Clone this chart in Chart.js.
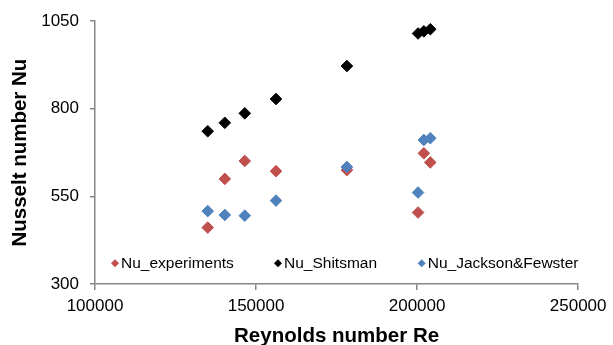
<!DOCTYPE html>
<html>
<head>
<meta charset="utf-8">
<script src="https://cdn.jsdelivr.net/npm/chart.js@4/dist/chart.umd.min.js"></script>
<style>
html,body{margin:0;padding:0;background:#fff;}
#wrap{width:613px;height:345px;position:relative;}
</style>
</head>
<body>
<div id="wrap"><canvas id="c"></canvas></div>
<script>
const reynolds = [135000, 140300, 146500, 156200, 178200, 200300, 202100, 204100];
const nuExperiments = [461, 600, 651, 622, 625, 504, 673, 647];
const nuShitsman = [736, 760, 787, 828, 922, 1015, 1021, 1027];
const nuJackson = [508, 497, 495, 538, 634, 561, 711, 716];
const seriesNames = ['Nu_experiments', 'Nu_Shitsman', 'Nu_Jackson&Fewster'];
const seriesColors = ['#C0504D', '#000000', '#4F81BD'];
const xTicks = [100000, 150000, 200000, 250000];
const yTicks = [300, 550, 800, 1050];

const FONT = "'Liberation Sans', Arial, Helvetica, sans-serif";

function pts(ys){ return reynolds.map((x,i)=>({x:x, y:ys[i]})); }

const allSeries = [nuExperiments, nuShitsman, nuJackson];
const datasets = allSeries.map((ys, i) => ({
  label: seriesNames[i],
  data: pts(ys),
  backgroundColor: seriesColors[i],
  borderColor: seriesColors[i],
  pointStyle: 'rectRot',
  pointRadius: 5.8,
  pointBorderWidth: 1,
  showLine: false,
  order: 3 - i
}));

const legendPlugin = {
  id: 'insideLegend',
  afterDraw(chart) {
    const ctx = chart.ctx;
    const a = chart.chartArea;
    const y = a.bottom - 20.7;
    const offsets = [20, 183, 326.7];
    ctx.save();
    ctx.font = "15.5px " + FONT;
    ctx.textBaseline = 'middle';
    ctx.textAlign = 'left';
    seriesNames.forEach((name, i) => {
      const cx = a.left + offsets[i];
      ctx.fillStyle = seriesColors[i];
      ctx.beginPath();
      ctx.moveTo(cx, y - 4);
      ctx.lineTo(cx + 4, y);
      ctx.lineTo(cx, y + 4);
      ctx.lineTo(cx - 4, y);
      ctx.closePath();
      ctx.fill();
      ctx.fillStyle = '#000';
      ctx.fillText(name, cx + 6, y + 0.5);
    });
    ctx.restore();
  }
};

new Chart(document.getElementById('c'), {
  type: 'scatter',
  data: { datasets },
  plugins: [legendPlugin],
  options: {
    responsive: true,
    maintainAspectRatio: false,
    animation: false,
    events: [],
    layout: { padding: { top: 21, right: 31, left: 0, bottom: 0 } },
    plugins: { legend: { display: false }, tooltip: { enabled: false } },
    scales: {
      x: {
        type: 'linear',
        min: xTicks[0], max: xTicks[xTicks.length - 1],
        afterBuildTicks(scale){ scale.ticks = xTicks.map(v => ({value: v})); },
        ticks: { font: { size: 17, family: FONT }, color: '#000', padding: 6.5, maxRotation: 0,
                 callback: v => String(v) },
        grid: { display: true, drawOnChartArea: false, drawTicks: true, tickLength: 6, color: '#868686', lineWidth: 1.5 },
        border: { display: true, color: '#868686', width: 1.5 },
        title: { display: true, text: 'Reynolds number Re', color: '#000',
                 font: { size: 20.5, weight: 'bold', family: FONT, lineHeight: 0.8 },
                 padding: { top: 0, bottom: 0 } },
        afterFit(scale){ scale.height = 61; }
      },
      y: {
        type: 'linear',
        min: yTicks[0], max: yTicks[yTicks.length - 1],
        afterBuildTicks(scale){ scale.ticks = yTicks.map(v => ({value: v})); },
        ticks: { font: { size: 17, family: FONT }, color: '#000', padding: 11,
                 callback: v => String(v) },
        grid: { display: true, drawOnChartArea: false, drawTicks: true, tickLength: 5, color: '#868686', lineWidth: 1.5 },
        border: { display: true, color: '#868686', width: 1.5 },
        title: { display: true, text: 'Nusselt number Nu', color: '#000',
                 font: { size: 20.5, weight: 'bold', family: FONT, lineHeight: 1.2 },
                 padding: { top: 8, bottom: 0 } },
        afterFit(scale){ scale.width = 95; }
      }
    }
  }
});
</script>
</body>
</html>
